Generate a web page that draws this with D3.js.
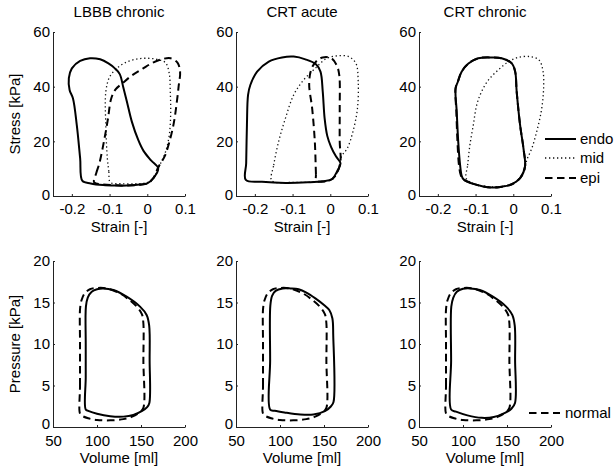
<!DOCTYPE html>
<html><head><meta charset="utf-8">
<script src="https://cdn.jsdelivr.net/npm/d3@7"></script>
<style>
body{margin:0;background:#fff}
text{font-family:"Liberation Sans",Arial,Helvetica,sans-serif;fill:#000}
</style>
</head><body>
<svg id="c" width="616" height="471"></svg>
<script>
// ---------- labels / ticks ----------
const panelTitles = ["LBBB chronic", "CRT acute", "CRT chronic"];
const layerNames = ["endo", "mid", "epi"];
const strainTicks = [-0.2, -0.1, 0, 0.1];
const stressTicks = [0, 20, 40, 60];
const volumeTicks = [50, 100, 150, 200];
const pressureTicks = [0, 5, 10, 15, 20];
const strainDomain = [-0.25, 0.1];
const stressDomain = [0, 60];
const volumeDomain = [50, 200];
const pressureDomain = [0, 20];

// ---------- stress-strain loops [strain, stress kPa] ----------
const endoLBBB = [[-0.172,5.5],[-0.150,4.6],[-0.117,4.0],[-0.085,3.8],[-0.055,3.8],[-0.020,4.2],[0.000,4.6],[0.016,6.5],[0.029,10.1],
 [0.010,13.0],[-0.010,16.5],[-0.024,20.5],[-0.041,27.2],[-0.054,34.5],[-0.064,40.0],[-0.073,44.6],[-0.086,46.7],[-0.103,48.5],[-0.125,50.0],
 [-0.152,50.4],[-0.178,49.4],[-0.200,46.7],[-0.208,43.1],[-0.206,38.8],[-0.197,35.7],[-0.187,26.0],[-0.178,13.8]];
const midLBBB = [[-0.098,5.0],[-0.102,9.0],[-0.106,14.0],[-0.110,26.0],[-0.110,38.0],[-0.100,43.5],[-0.080,46.8],[-0.055,49.0],[-0.028,50.1],
 [0.000,50.4],[0.025,50.0],[0.048,48.8],[0.058,45.0],[0.061,38.0],[0.062,30.0],[0.058,22.0],[0.048,16.0],[0.032,11.0],[0.016,6.5],
 [0.000,4.9],[-0.030,4.5],[-0.070,4.5]];
const epiLBBB = [[-0.141,5.0],[-0.135,8.5],[-0.127,12.0],[-0.115,19.9],[-0.104,28.5],[-0.096,35.5],[-0.084,39.0],[-0.066,41.2],[-0.040,44.2],
 [-0.012,46.6],[0.015,48.8],[0.040,50.1],[0.062,50.4],[0.080,48.8],[0.087,45.5],[0.083,40.0],[0.078,34.0],[0.070,26.5],[0.058,19.5],
 [0.046,14.5],[0.029,10.5],[0.016,6.5],[0.000,4.6],[-0.040,3.9],[-0.081,3.9],[-0.120,4.3]];

const endoCRTa = [[-0.224,5.9],[-0.181,5.2],[-0.119,4.8],[-0.060,5.0],[-0.020,5.4],[0.005,6.2],[0.018,9.0],[0.027,12.0],[0.015,14.5],
 [0.002,18.0],[-0.008,22.0],[-0.015,28.4],[-0.020,38.2],[-0.026,45.5],[-0.038,48.2],[-0.066,50.0],[-0.097,51.0],[-0.128,50.7],
 [-0.163,49.2],[-0.194,45.5],[-0.212,40.6],[-0.218,37.0],[-0.221,26.0],[-0.223,12.0]];
const midCRTa = [[-0.155,5.6],[-0.150,11.3],[-0.137,19.9],[-0.119,28.4],[-0.097,37.0],[-0.071,42.4],[-0.040,46.7],[-0.009,50.4],[0.022,51.3],
 [0.049,51.0],[0.068,48.5],[0.074,42.0],[0.072,32.0],[0.060,23.5],[0.045,17.4],[0.030,14.5],[0.020,9.0],[0.005,6.0],[-0.040,5.2],[-0.100,5.0]];
const epiCRTa = [[-0.037,5.5],[-0.038,8.0],[-0.041,19.9],[-0.048,32.0],[-0.056,41.0],[-0.050,46.5],[-0.037,49.3],[-0.020,50.7],[0.003,50.4],
 [0.018,47.5],[0.024,44.0],[0.025,32.0],[0.025,19.9],[0.027,12.6],[0.018,8.5],[0.005,6.2],[-0.015,5.3]];

const endoCRTc = [[-0.132,6.1],[-0.110,4.6],[-0.080,3.5],[-0.057,3.1],[-0.030,3.4],[-0.004,4.3],[0.018,6.5],[0.031,10.7],[0.027,17.4],
 [0.018,26.0],[0.009,38.2],[0.005,45.5],[-0.004,48.5],[-0.031,50.4],[-0.057,50.7],[-0.093,50.4],[-0.119,48.5],[-0.137,45.5],
 [-0.147,41.8],[-0.153,39.4],[-0.150,30.9],[-0.146,19.9],[-0.141,11.3],[-0.137,7.5]];
const midCRTc = [[-0.125,6.5],[-0.121,11.3],[-0.115,18.7],[-0.106,26.0],[-0.097,33.3],[-0.084,38.2],[-0.066,42.4],[-0.040,46.1],[-0.013,49.1],
 [0.013,50.7],[0.044,51.0],[0.068,49.8],[0.079,45.5],[0.080,38.2],[0.074,30.9],[0.062,23.5],[0.049,17.4],[0.036,13.2],[0.028,9.0],
 [0.015,6.2],[-0.004,4.3],[-0.057,3.3],[-0.110,4.8]];
const epiCRTc = [[-0.133,6.1],[-0.110,4.6],[-0.080,3.5],[-0.057,3.1],[-0.030,3.4],[-0.004,4.3],[0.018,6.5],[0.031,10.7],[0.027,17.4],
 [0.018,26.0],[0.009,38.2],[0.005,45.5],[-0.004,48.5],[-0.031,50.4],[-0.057,50.7],[-0.093,50.4],[-0.119,48.5],[-0.137,45.5],
 [-0.147,41.8],[-0.153,39.4],[-0.151,30.9],[-0.148,19.9],[-0.144,11.3],[-0.139,7.5]];

// ---------- pressure-volume loops [volume ml, pressure kPa] ----------
const pvNormal = [[80.7,1.6],[80.7,5.0],[80.7,10.0],[80.8,14.3],[82.5,15.3],[86.0,16.1],[92.0,16.6],[100.0,16.75],[111.0,16.7],[126.0,16.1],
 [138.0,15.2],[146.0,14.4],[151.0,13.6],[152.7,12.5],[152.7,8.0],[152.7,2.3],[149.0,1.8],[140.0,1.25],[129.9,0.95],[115.0,0.8],
 [100.0,0.85],[90.0,1.05],[83.0,1.35]];
const pvLBBBc = [[87.2,2.1],[87.2,6.0],[87.2,10.0],[87.4,14.5],[89.5,15.6],[94.0,16.3],[100.0,16.6],[107.0,16.7],[118.6,16.5],[133.7,15.7],
 [148.9,14.5],[156.4,13.5],[159.3,12.2],[159.8,8.0],[159.5,2.9],[157.0,2.4],[150.8,1.9],[141.3,1.45],[130.0,1.25],[115.0,1.3],
 [100.0,1.6],[90.0,1.95]];
const pvCRTa = [[88.8,2.1],[88.8,8.0],[89.0,14.6],[91.0,15.8],[95.0,16.4],[103.0,16.7],[112.0,16.7],[121.2,16.6],[130.0,16.2],[140.2,15.5],
 [150.0,14.7],[156.0,14.1],[159.5,13.1],[160.5,11.0],[160.8,3.0],[158.0,2.5],[151.0,1.9],[138.0,1.5],[123.0,1.5],[105.0,1.75],[94.0,1.95]];
const pvCRTc = [[86.5,2.1],[86.5,8.0],[86.7,14.5],[89.0,15.6],[93.0,16.3],[100.0,16.65],[108.0,16.7],[119.0,16.5],[134.0,15.7],[149.0,14.5],
 [156.0,13.5],[158.8,12.2],[159.2,8.0],[159.1,2.9],[155.0,2.2],[147.7,1.7],[135.0,1.2],[121.2,1.1],[105.0,1.4],[92.0,1.85]];

// ---------- assemble ----------
const stressStrain = [
  {endo: endoLBBB, mid: midLBBB, epi: epiLBBB},
  {endo: endoCRTa, mid: midCRTa, epi: epiCRTa},
  {endo: endoCRTc, mid: midCRTc, epi: epiCRTc}
];
const pvCases = [pvLBBBc, pvCRTa, pvCRTc];

const styles = {
  endo: {w: 2, dash: null, color: "#000"},
  mid: {w: 1.3, dash: "1.3,2.7", color: "#111"},
  epi: {w: 2, dash: "7.5,4.5", color: "#000"},
  normal: {w: 2, dash: "7.5,4.5", color: "#000"}
};

const svg = d3.select("#c");
const font = 15;
const panelLeft = [53, 236, 419];
const panelW = 132;
const topY = [196, 32];
const botY = [427, 261];

function drawAxes(g, x, y, xt, yt, xPad, zeroDy) {
  g.append("g").attr("transform", `translate(0,${y.range()[0]})`)
    .call(d3.axisBottom(x).tickValues(xt).tickSizeInner(-2).tickSizeOuter(0).tickPadding(xPad).tickFormat(d => String(d)))
    .call(s => { s.selectAll("text").attr("font-size", font); s.attr("font-family", null); });
  g.append("g").attr("transform", `translate(${x.range()[0]},0)`)
    .call(d3.axisLeft(y).tickValues(yt).tickSizeInner(-2).tickSizeOuter(0).tickPadding(3).tickFormat(d => String(d)))
    .call(s => {
      s.selectAll("text").attr("font-size", font);
      s.attr("font-family", null);
      s.selectAll(".tick text").filter(d => d === 0).attr("dy", zeroDy);
    });
  g.selectAll(".domain, .tick line").attr("stroke", "#222");
}

panelTitles.forEach((title, i) => {
  const cx = panelLeft[i] + panelW / 2;
  const x = d3.scaleLinear().domain(strainDomain).range([panelLeft[i], panelLeft[i] + panelW]);
  const y = d3.scaleLinear().domain(stressDomain).range(topY);
  const g = svg.append("g");
  drawAxes(g, x, y, strainTicks, stressTicks, 7.5, "0.2em");
  g.append("text").attr("x", cx).attr("y", 17)
    .attr("text-anchor", "middle").attr("font-size", font).text(title);
  g.append("text").attr("x", cx).attr("y", 232)
    .attr("text-anchor", "middle").attr("font-size", font).text("Strain [-]");
  const line = d3.line().x(d => x(d[0])).y(d => y(d[1])).curve(d3.curveCatmullRomClosed.alpha(0.5));
  ["mid", "epi", "endo"].forEach(k => {
    const st = styles[k];
    g.append("path").attr("d", line(stressStrain[i][k])).attr("fill", "none")
      .attr("stroke", st.color).attr("stroke-width", st.w)
      .attr("stroke-dasharray", st.dash).attr("stroke-linejoin", "round");
  });

  const xv = d3.scaleLinear().domain(volumeDomain).range([panelLeft[i], panelLeft[i] + panelW]);
  const yp = d3.scaleLinear().domain(pressureDomain).range(botY);
  const g2 = svg.append("g");
  drawAxes(g2, xv, yp, volumeTicks, pressureTicks, 8.5, "0.1em");
  g2.append("text").attr("x", cx).attr("y", 463)
    .attr("text-anchor", "middle").attr("font-size", font).text("Volume [ml]");
  const line2 = d3.line().x(d => xv(d[0])).y(d => yp(d[1])).curve(d3.curveCatmullRomClosed.alpha(0.5));
  g2.append("path").attr("d", line2(pvNormal)).attr("fill", "none")
    .attr("stroke", "#000").attr("stroke-width", styles.normal.w).attr("stroke-dasharray", styles.normal.dash);
  g2.append("path").attr("d", line2(pvCases[i])).attr("fill", "none")
    .attr("stroke", "#000").attr("stroke-width", 2).attr("stroke-linejoin", "round");
});

// y labels
svg.append("text").attr("transform", `translate(20,${(topY[0] + topY[1]) / 2}) rotate(-90)`)
  .attr("text-anchor", "middle").attr("font-size", font).text("Stress [kPa]");
svg.append("text").attr("transform", `translate(20,${(botY[0] + botY[1]) / 2}) rotate(-90)`)
  .attr("text-anchor", "middle").attr("font-size", font).text("Pressure [kPa]");

// legends
const legY = [139, 158, 178];
layerNames.forEach((k, j) => {
  const st = styles[k];
  svg.append("line").attr("x1", 545).attr("x2", 576).attr("y1", legY[j]).attr("y2", legY[j])
    .attr("stroke", st.color).attr("stroke-width", st.w).attr("stroke-dasharray", st.dash);
  svg.append("text").attr("x", 580).attr("y", legY[j] + 5).attr("font-size", font).text(k);
});
svg.append("line").attr("x1", 529).attr("x2", 560).attr("y1", 413).attr("y2", 413)
  .attr("stroke", "#000").attr("stroke-width", 2).attr("stroke-dasharray", styles.normal.dash);
svg.append("text").attr("x", 565).attr("y", 418).attr("font-size", font).text("normal");
</script>
</body></html>
